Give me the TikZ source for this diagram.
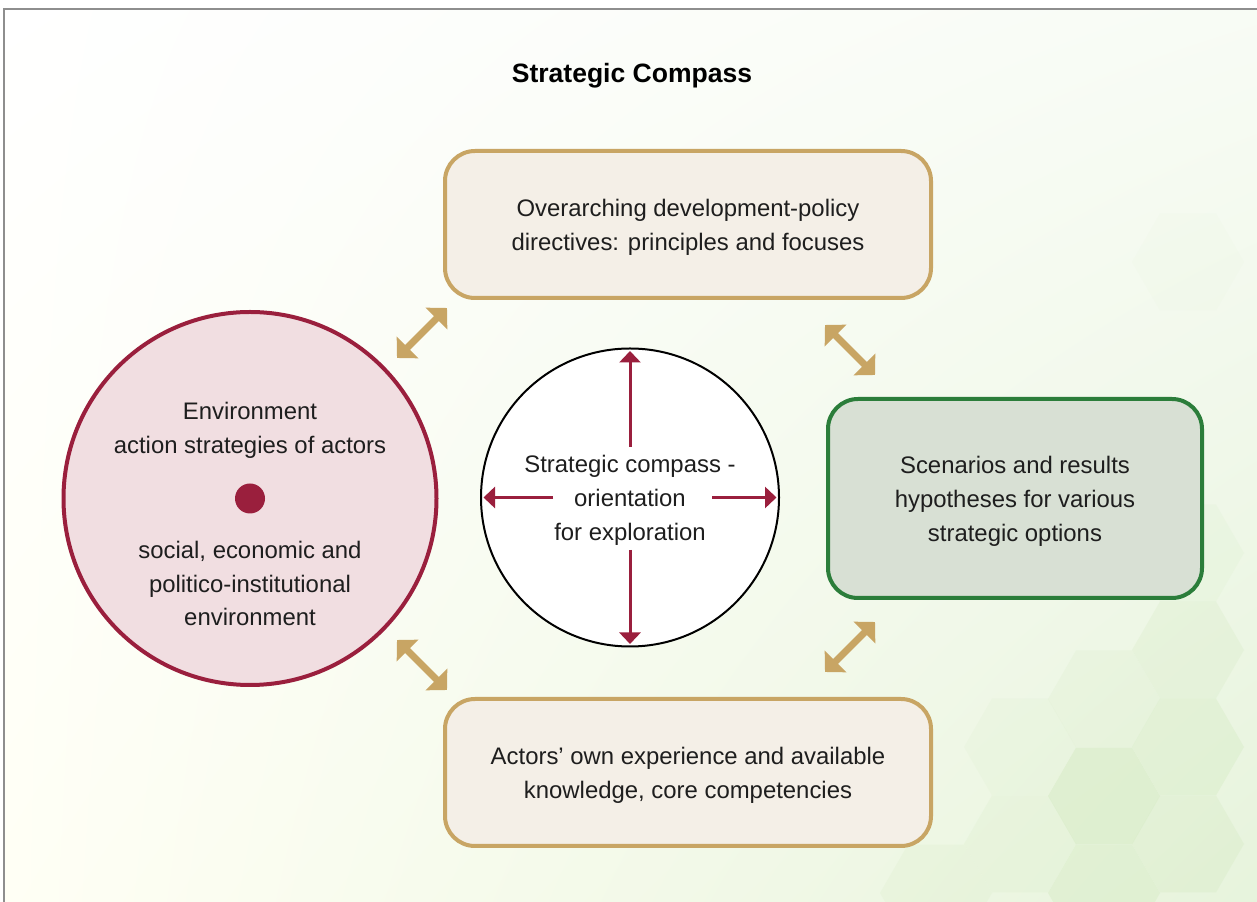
\documentclass[tikz,border=0pt]{standalone}
\usepackage{fontspec}
\setmainfont{Liberation Sans}
\usepackage{tikz}
\usetikzlibrary{arrows.meta,calc,positioning,shapes.geometric,shadings}
\definecolor{tanline}{HTML}{C8A564}
\definecolor{panelfill}{HTML}{F4EFE7}
\definecolor{greenline}{HTML}{2B7D3A}
\definecolor{greenfill}{HTML}{D8E0D4}
\definecolor{crimson}{HTML}{9A1F3D}
\definecolor{rosefill}{HTML}{F1DEE1}
\definecolor{inktext}{HTML}{1E1E1E}
\definecolor{hexgreen}{HTML}{D3EAC0}
\definecolor{framegray}{HTML}{8E8E8E}
\newcommand{\bodyfont}{\fontsize{13.6}{19.3}\selectfont}
\tikzset{
  panel/.style={draw=tanline,line width=0.08cm,fill=panelfill,rounded corners=0.6cm,
    minimum width=9.72cm,minimum height=2.94cm,align=center,font=\bodyfont,text=inktext,text depth=-0.06cm},
  outcome/.style={panel,draw=greenline,fill=greenfill,minimum width=7.48cm,minimum height=3.98cm},
  envcircle/.style={circle,draw=crimson,line width=0.08cm,fill=rosefill,minimum size=7.46cm,inner sep=0pt},
  compasscircle/.style={circle,draw=black,line width=0.04cm,fill=white,minimum size=5.96cm,inner sep=0pt,
    align=center,font=\bodyfont,text=inktext,text depth=-0.06cm},
  txt/.style={align=center,font=\bodyfont,text=inktext,inner sep=0pt},
  reddot/.style={circle,fill=crimson,minimum size=0.6cm,inner sep=0pt},
  twoway/.style={draw=tanline,line width=0.14cm,
    {Triangle[width=0.6cm,length=0.3cm]}-{Triangle[width=0.6cm,length=0.3cm]}},
  needle/.style={draw=crimson,line width=0.06cm,-{Triangle[width=0.42cm,length=0.23cm]},shorten >=0.07cm},
}

\begin{document}
\begin{tikzpicture}
\useasboundingbox (0,0) rectangle (25.14,18.04);
% background
\shade[upper left=white,upper right=white!60!hexgreen!40,lower left=yellow!4,lower right=hexgreen!55]
  (0.08,0) rectangle (25.14,17.86);
\foreach \hx/\hy/\ho in {22.08/2.12/0.5,22.08/0.18/0.4,22.08/4.06/0.18,23.76/3.10/0.35,23.76/1.16/0.3,
  23.76/5.04/0.25,23.76/6.98/0.15,23.76/12.80/0.06,20.40/1.16/0.18,20.40/3.10/0.12,18.72/0.18/0.18}
  \fill[hexgreen,opacity=\ho] (\hx,\hy) +(0:1.12) -- +(60:1.12) -- +(120:1.12) -- +(180:1.12)
    -- +(240:1.12) -- +(300:1.12) -- cycle;
\draw[framegray,line width=0.04cm] (0.08,0) -- (0.08,17.86) -- (25.14,17.86);

\node[font=\fontsize{15.1}{18}\selectfont\bfseries,text=black] (title) at (12.64,16.52) {Strategic Compass};

\node[panel] (top) at (13.76,13.55) {Overarching development-policy\\directives: principles and focuses};
\node[panel] (bottom) at (13.76,2.59) {Actors’ own experience and available\\knowledge, core competencies};
\node[outcome] (result) at (20.30,8.07) {Scenarios and results\\hypotheses for various\\strategic options};
\node[envcircle] (env) at (5.00,8.07) {};
\node[reddot] (envdot) at (env.center) {};
\node[txt] (envtop) at (5.00,9.44) {Environment\\action strategies of actors};
\node[txt] (envbottom) at (5.00,6.37) {social, economic and\\politico-institutional\\environment};
\node[compasscircle] (comp) at (12.60,8.09) {Strategic compass -\\orientation\\for exploration};

% compass needles
\draw[needle] ([yshift=1.01cm]comp.center) -- (comp.north);
\draw[needle] ([yshift=-1.05cm]comp.center) -- (comp.south);
\draw[needle] ([xshift=-1.54cm]comp.center) -- (comp.west);
\draw[needle] ([xshift=1.64cm]comp.center) -- (comp.east);

% links between the blocks
\draw[twoway] ([shift={(0.08,-0.16)}]top.south west) -- ++(-1,-1);
\draw[twoway] ([shift={(-2.16,-0.5)}]top.south east) -- ++(1,-1);
\draw[twoway] ([shift={(0.08,0.14)}]bottom.north west) -- ++(-1,1);
\draw[twoway] ([shift={(-2.16,0.5)}]bottom.north east) -- ++(1,1);
\end{tikzpicture}
\end{document}
